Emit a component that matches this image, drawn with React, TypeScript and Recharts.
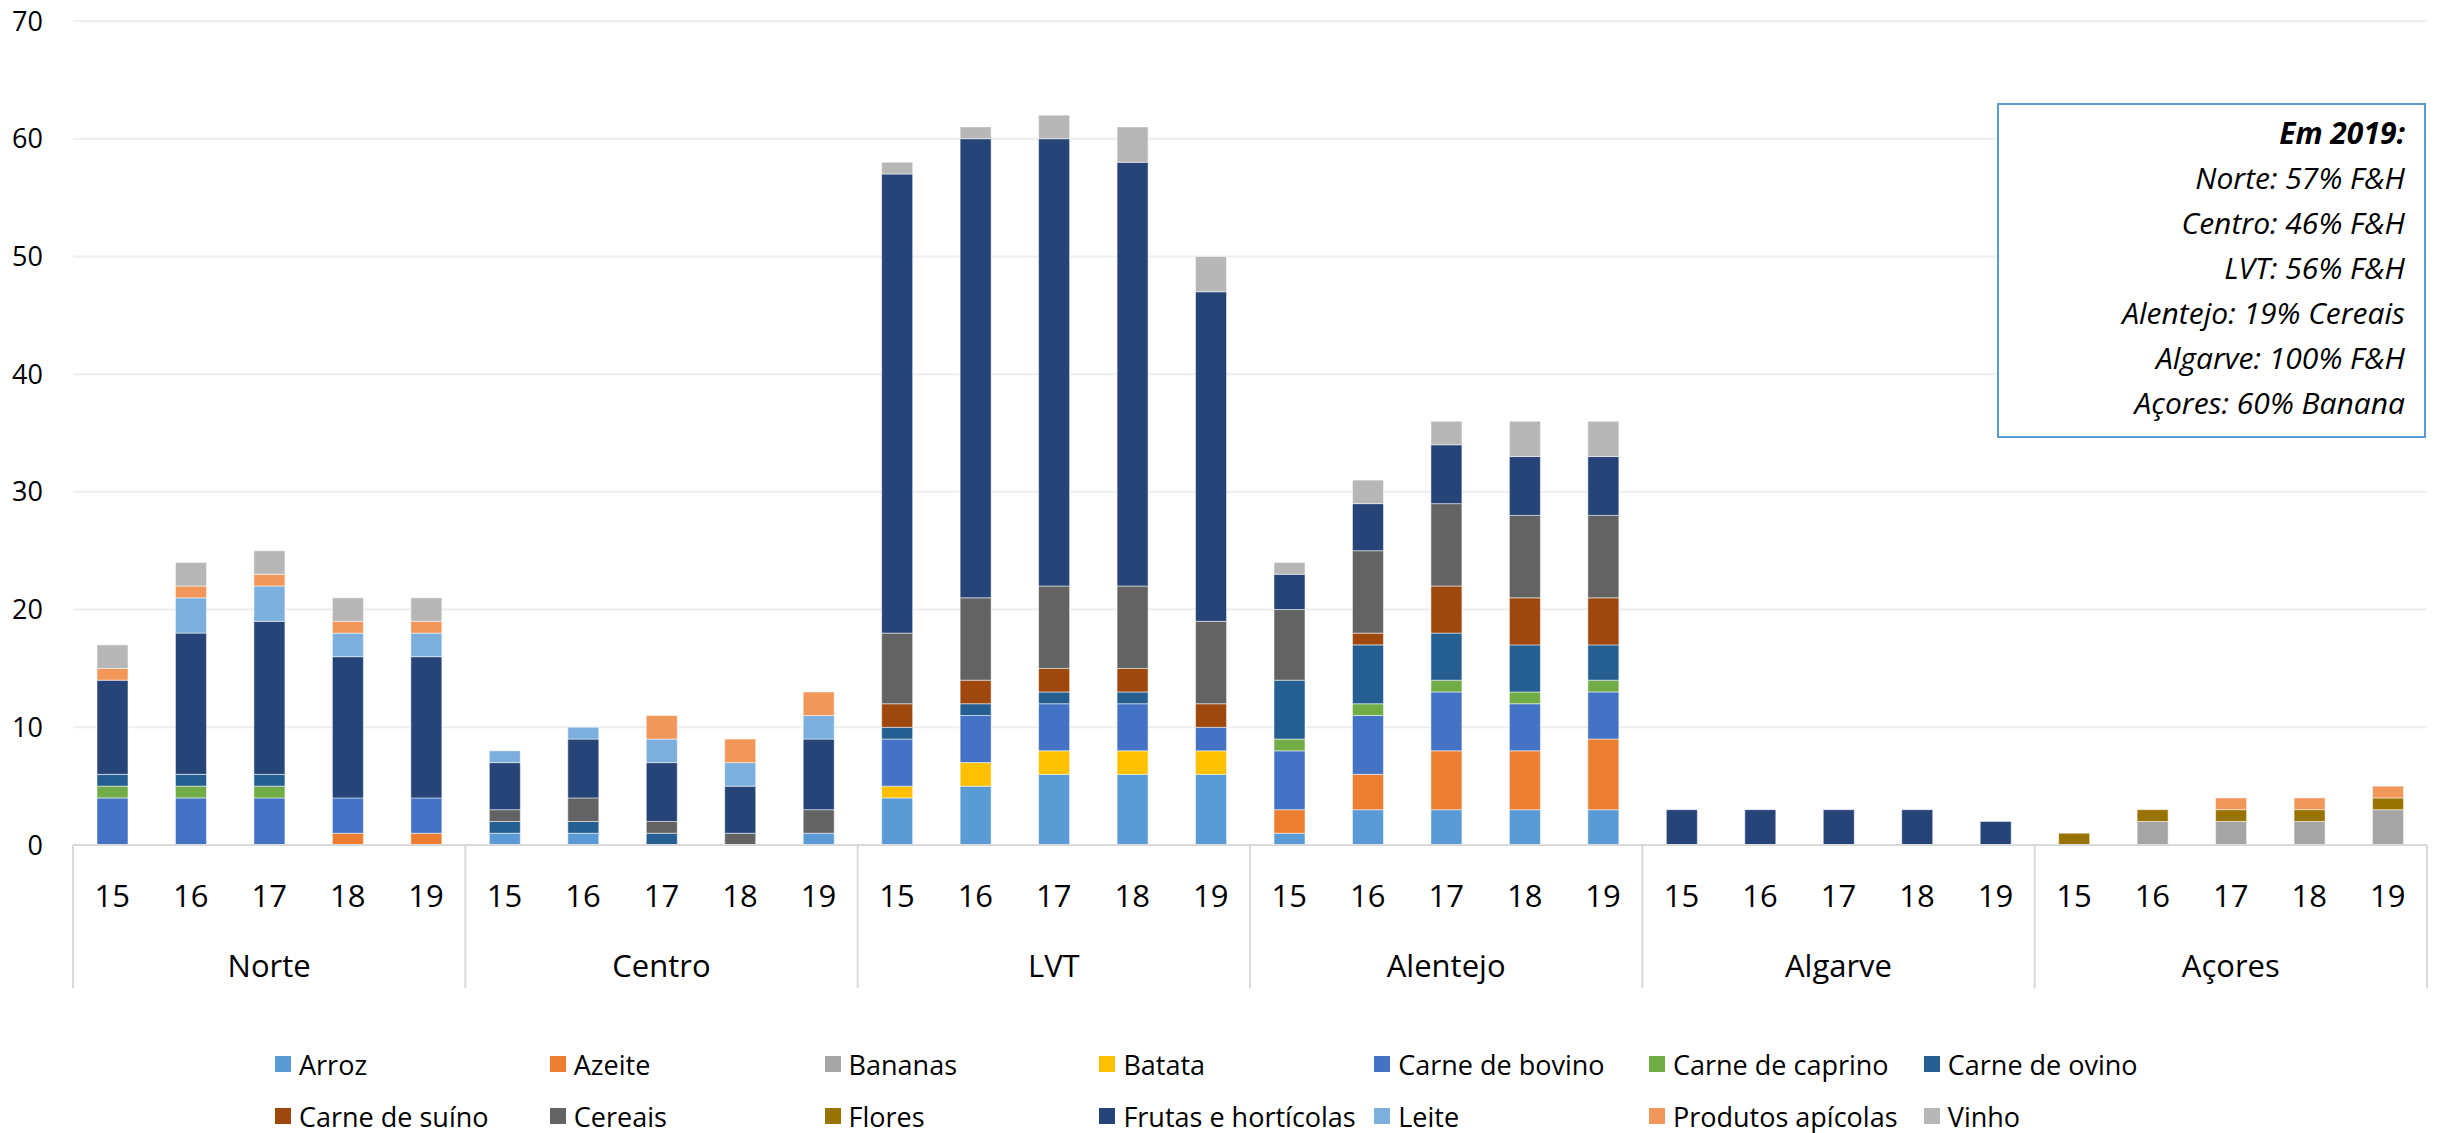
import { BarChart, Bar, XAxis, YAxis, CartesianGrid } from "recharts";

const regions = ["Norte", "Centro", "LVT", "Alentejo", "Algarve", "Açores"];
const years = ["15", "16", "17", "18", "19"];
const yTicks = [0, 10, 20, 30, 40, 50, 60, 70];

// one value per bar: Norte 15..19, Centro 15..19, LVT, Alentejo, Algarve, Açores
const arroz = [0, 0, 0, 0, 0, 1, 1, 0, 0, 1, 4, 5, 6, 6, 6, 1, 3, 3, 3, 3, 0, 0, 0, 0, 0, 0, 0, 0, 0, 0];
const azeite = [0, 0, 0, 1, 1, 0, 0, 0, 0, 0, 0, 0, 0, 0, 0, 2, 3, 5, 5, 6, 0, 0, 0, 0, 0, 0, 0, 0, 0, 0];
const bananas = [0, 0, 0, 0, 0, 0, 0, 0, 0, 0, 0, 0, 0, 0, 0, 0, 0, 0, 0, 0, 0, 0, 0, 0, 0, 0, 2, 2, 2, 3];
const batata = [0, 0, 0, 0, 0, 0, 0, 0, 0, 0, 1, 2, 2, 2, 2, 0, 0, 0, 0, 0, 0, 0, 0, 0, 0, 0, 0, 0, 0, 0];
const bovino = [4, 4, 4, 3, 3, 0, 0, 0, 0, 0, 4, 4, 4, 4, 2, 5, 5, 5, 4, 4, 0, 0, 0, 0, 0, 0, 0, 0, 0, 0];
const caprino = [1, 1, 1, 0, 0, 0, 0, 0, 0, 0, 0, 0, 0, 0, 0, 1, 1, 1, 1, 1, 0, 0, 0, 0, 0, 0, 0, 0, 0, 0];
const ovino = [1, 1, 1, 0, 0, 1, 1, 1, 0, 0, 1, 1, 1, 1, 0, 5, 5, 4, 4, 3, 0, 0, 0, 0, 0, 0, 0, 0, 0, 0];
const suino = [0, 0, 0, 0, 0, 0, 0, 0, 0, 0, 2, 2, 2, 2, 2, 0, 1, 4, 4, 4, 0, 0, 0, 0, 0, 0, 0, 0, 0, 0];
const cereais = [0, 0, 0, 0, 0, 1, 2, 1, 1, 2, 6, 7, 7, 7, 7, 6, 7, 7, 7, 7, 0, 0, 0, 0, 0, 0, 0, 0, 0, 0];
const flores = [0, 0, 0, 0, 0, 0, 0, 0, 0, 0, 0, 0, 0, 0, 0, 0, 0, 0, 0, 0, 0, 0, 0, 0, 0, 1, 1, 1, 1, 1];
const frutas = [8, 12, 13, 12, 12, 4, 5, 5, 4, 6, 39, 39, 38, 36, 28, 3, 4, 5, 5, 5, 3, 3, 3, 3, 2, 0, 0, 0, 0, 0];
const leite = [0, 3, 3, 2, 2, 1, 1, 2, 2, 2, 0, 0, 0, 0, 0, 0, 0, 0, 0, 0, 0, 0, 0, 0, 0, 0, 0, 0, 0, 0];
const apicolas = [1, 1, 1, 1, 1, 0, 0, 2, 2, 2, 0, 0, 0, 0, 0, 0, 0, 0, 0, 0, 0, 0, 0, 0, 0, 0, 0, 1, 1, 1];
const vinho = [2, 2, 2, 2, 2, 0, 0, 0, 0, 0, 1, 1, 2, 3, 3, 1, 2, 2, 3, 3, 0, 0, 0, 0, 0, 0, 0, 0, 0, 0];

const series = [
  { name: "Arroz", values: arroz, color: "#5B9BD5" },
  { name: "Azeite", values: azeite, color: "#ED7D31" },
  { name: "Bananas", values: bananas, color: "#A5A5A5" },
  { name: "Batata", values: batata, color: "#FFC000" },
  { name: "Carne de bovino", values: bovino, color: "#4472C4" },
  { name: "Carne de caprino", values: caprino, color: "#70AD47" },
  { name: "Carne de ovino", values: ovino, color: "#255E91" },
  { name: "Carne de suíno", values: suino, color: "#9E480E" },
  { name: "Cereais", values: cereais, color: "#636363" },
  { name: "Flores", values: flores, color: "#997300" },
  { name: "Frutas e hortícolas", values: frutas, color: "#264478" },
  { name: "Leite", values: leite, color: "#7CAFDD" },
  { name: "Produtos apícolas", values: apicolas, color: "#F1975A" },
  { name: "Vinho", values: vinho, color: "#B7B7B7" },
];

const notes = [
  "Norte: 57% F&H",
  "Centro: 46% F&H",
  "LVT: 56% F&H",
  "Alentejo: 19% Cereais",
  "Algarve: 100% F&H",
  "Açores: 60% Banana",
];

const rows = regions.flatMap((region, r) =>
  years.map((year, y) => {
    const row: Record<string, string | number> = { key: region + "|" + year };
    series.forEach((s) => {
      row[s.name] = s.values[r * years.length + y];
    });
    return row;
  })
);

const FONT = "'Open Sans', sans-serif";
const SEP = "#D9D9D9";

function CategoryTick(props: any) {
  const { x, y, payload } = props;
  const [region, year] = String(payload.value).split("|");
  const yi = years.indexOf(year);
  const ri = regions.indexOf(region);
  const half = payload.offset ?? 39.23;
  const last = ri === regions.length - 1 && yi === years.length - 1;
  return (
    <g>
      <text x={x} y={y + 50} textAnchor="middle" dominantBaseline="central" fontSize={31} fill="#000" fontFamily={FONT}>
        {year}
      </text>
      {yi === 0 && <line x1={x - half} x2={x - half} y1={y} y2={y + 143} stroke={SEP} strokeWidth={2} />}
      {last && <line x1={x + half} x2={x + half} y1={y} y2={y + 143} stroke={SEP} strokeWidth={2} />}
      {yi === 2 && (
        <text x={x} y={y + 120} textAnchor="middle" dominantBaseline="central" fontSize={31} fill="#000" fontFamily={FONT}>
          {region}
        </text>
      )}
    </g>
  );
}

export default function App() {
  return (
    <div style={{ position: "absolute", left: 0, top: 0, width: 2450, height: 1133, background: "#fff", fontFamily: FONT }}>
      <BarChart
        width={2450}
        height={1000}
        data={rows}
        margin={{ top: 21, right: 23, left: 0, bottom: 12 }}
        barSize={31}
      >
        <CartesianGrid vertical={false} stroke="#EEEEEE" strokeWidth={2} />
        <XAxis
          dataKey="key"
          interval={0}
          height={143}
          tickLine={false}
          tickSize={0}
          tickMargin={0}
          axisLine={{ stroke: SEP, strokeWidth: 2 }}
          tick={(p: any) => <CategoryTick {...p} />}
        />
        <YAxis
          width={73}
          domain={[0, 70]}
          ticks={yTicks}
          axisLine={false}
          tickLine={false}
          tickSize={0}
          tickMargin={30}
          tick={{ fontSize: 27, fill: "#000", fontFamily: FONT }}
        />
        {series.map((s) => (
          <Bar
            key={s.name}
            dataKey={s.name}
            stackId="a"
            fill={s.color}
            stroke="#ffffff"
            strokeOpacity={0.5}
            strokeWidth={1}
            isAnimationActive={false}
          />
        ))}
      </BarChart>

      <div
        style={{
          position: "absolute",
          left: 1997,
          top: 103,
          width: 429,
          height: 335,
          boxSizing: "border-box",
          border: "2px solid #5B9BD5",
          background: "#fff",
          paddingTop: 5,
          paddingRight: 19,
          textAlign: "right",
          fontStyle: "italic",
          fontSize: 30,
          lineHeight: "45px",
          color: "#000",
        }}
      >
        <div style={{ fontWeight: 700 }}>Em 2019:</div>
        {notes.map((n) => (
          <div key={n}>{n}</div>
        ))}
      </div>

      {series.map((s, i) => (
        <div
          key={s.name}
          style={{
            position: "absolute",
            left: 275 + (i % 7) * 274.8,
            top: i < 7 ? 1044 : 1096,
            height: 40,
            display: "flex",
            alignItems: "center",
            fontSize: 27,
            color: "#000",
            whiteSpace: "nowrap",
          }}
        >
          <span style={{ width: 16, height: 16, background: s.color, marginRight: 8, display: "inline-block" }} />
          {s.name}
        </div>
      ))}
    </div>
  );
}
